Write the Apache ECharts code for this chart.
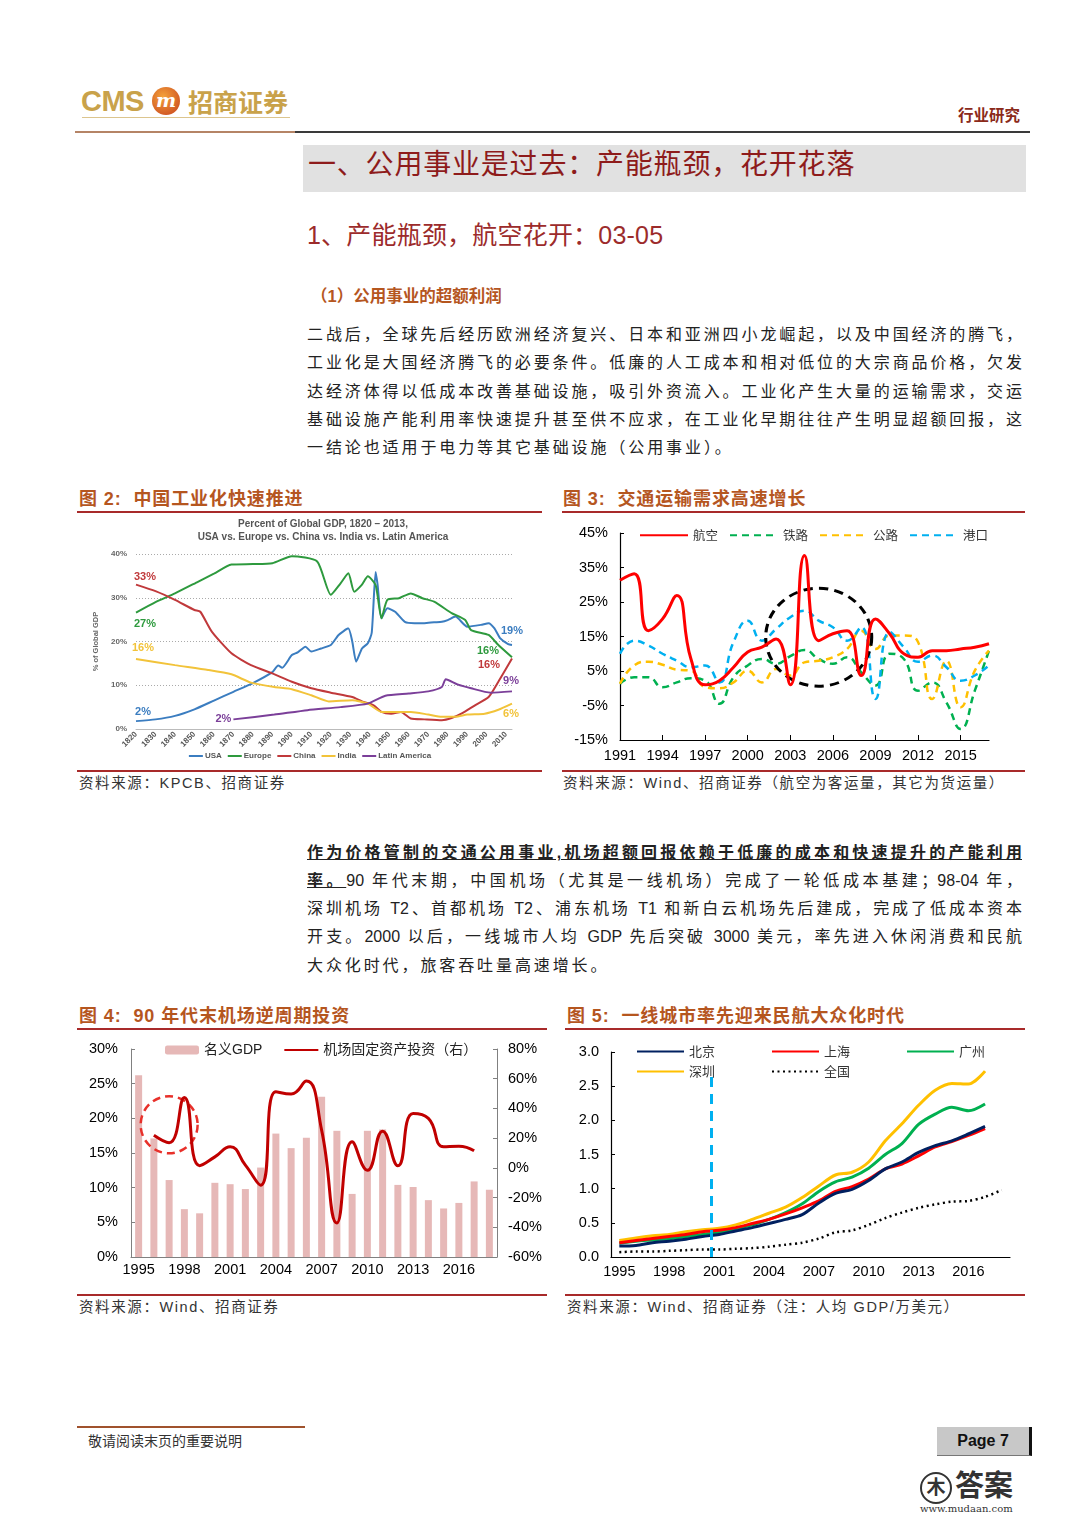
<!DOCTYPE html>
<html><head><meta charset="utf-8">
<script src="https://cdn.jsdelivr.net/npm/echarts/dist/echarts.min.js"></script>
<style>
body{margin:0;background:#fff;width:1080px;height:1527px;position:relative;overflow:hidden;font-family:"Liberation Sans","Noto Sans CJK SC",sans-serif;color:#222;}
.a{position:absolute;white-space:nowrap;}
.hl{position:absolute;height:2px;background:#a82a2a;}
.figt{position:absolute;font-size:18px;font-weight:bold;color:#b5561f;line-height:24px;white-space:nowrap;letter-spacing:0.9px;}
.src{position:absolute;font-size:14.5px;color:#333;line-height:20px;white-space:nowrap;letter-spacing:1.6px;}
.pl{position:absolute;left:307px;width:715px;height:28px;line-height:28px;font-size:16px;letter-spacing:2.9px;white-space:nowrap;color:#222;}
.j{text-align:justify;text-align-last:justify;letter-spacing:0;}
.ch{position:absolute;}
</style></head>
<body>
<!-- header -->
<div class="a" style="left:81px;top:85px;font:bold 29px 'Liberation Sans';color:#c9a24a;letter-spacing:-0.5px;line-height:32px">CMS</div>
<div class="a" style="left:152px;top:87px;width:28px;height:28px;border-radius:50%;background:radial-gradient(circle at 40% 35%,#f4a23a,#c6401c);"></div>
<div class="a" style="left:156px;top:87px;font:italic bold 19px 'DejaVu Serif';color:#fff;line-height:26px">m</div>
<div class="a" style="left:188px;top:84px;font:bold 25px 'Noto Sans CJK SC';color:#c9a24a;line-height:34px">招商证券</div>
<div class="a" style="left:82px;top:117px;width:208px;height:1px;background:#dcc58e"></div>
<div class="a" style="left:75px;top:131px;width:220px;height:2px;background:#b58466"></div>
<div class="a" style="left:295px;top:131px;width:735px;height:2px;background:#3a3a3a"></div>
<div class="a" style="left:958px;top:104px;font:bold 15.5px 'Noto Sans CJK SC';color:#8b2a1a;line-height:20px">行业研究</div>

<div class="a" style="left:303px;top:145px;width:723px;height:47px;background:#e1e1e1"></div>
<div class="a" style="left:308px;top:145px;height:47px;line-height:40px;font-size:28px;color:#8e1b1b;letter-spacing:0.8px">一、公用事业是过去：产能瓶颈，花开花落</div>
<div class="a" style="left:307px;top:218px;line-height:34px;font-size:25px;color:#9c2b2b;letter-spacing:0.2px">1、产能瓶颈，航空花开：03-05</div>
<div class="a" style="left:311px;top:284px;line-height:24px;font-size:16.5px;font-weight:bold;color:#b5561f">（1）公用事业的超额利润</div>

<div class="pl j" style="top:321px">二战后，全球先后经历欧洲经济复兴、日本和亚洲四小龙崛起，以及中国经济的腾飞，</div>
<div class="pl j" style="top:349px">工业化是大国经济腾飞的必要条件。低廉的人工成本和相对低位的大宗商品价格，欠发</div>
<div class="pl j" style="top:378px">达经济体得以低成本改善基础设施，吸引外资流入。工业化产生大量的运输需求，交运</div>
<div class="pl j" style="top:406px">基础设施产能利用率快速提升甚至供不应求，在工业化早期往往产生明显超额回报，这</div>
<div class="pl" style="top:434px">一结论也适用于电力等其它基础设施（公用事业）。</div>

<!-- figure 2/3 headers -->
<div class="figt" style="left:79px;top:487px">图 2:&nbsp;&nbsp;中国工业化快速推进</div>
<div class="figt" style="left:563px;top:487px">图 3:&nbsp;&nbsp;交通运输需求高速增长</div>
<div class="hl" style="left:77px;top:511px;width:465px"></div>
<div class="hl" style="left:562px;top:511px;width:463px"></div>
<div class="hl" style="left:77px;top:770px;width:465px"></div>
<div class="hl" style="left:562px;top:770px;width:463px"></div>
<div class="src" style="left:79px;top:773px">资料来源：KPCB、招商证券</div>
<div class="src" style="left:563px;top:773px">资料来源：Wind、招商证券（航空为客运量，其它为货运量）</div>

<div id="c2" class="ch" style="left:77px;top:513px;width:466px;height:257px"></div>
<div id="c3" class="ch" style="left:562px;top:513px;width:463px;height:257px"></div>

<!-- paragraph 2 -->
<div class="pl j" style="top:839px;font-weight:bold;text-decoration:underline;">作为价格管制的交通公用事业,机场超额回报依赖于低廉的成本和快速提升的产能利用</div>
<div class="pl j" style="top:867px"><b style="text-decoration:underline">率。</b>90 年代末期，中国机场（尤其是一线机场）完成了一轮低成本基建；98-04 年，</div>
<div class="pl j" style="top:895px">深圳机场 T2、首都机场 T2、浦东机场 T1 和新白云机场先后建成，完成了低成本资本</div>
<div class="pl j" style="top:923px">开支。2000 以后，一线城市人均 GDP 先后突破 3000 美元，率先进入休闲消费和民航</div>
<div class="pl" style="top:952px">大众化时代，旅客吞吐量高速增长。</div>

<!-- figure 4/5 headers -->
<div class="figt" style="left:79px;top:1004px">图 4:&nbsp;&nbsp;90 年代末机场逆周期投资</div>
<div class="figt" style="left:567px;top:1004px">图 5:&nbsp;&nbsp;一线城市率先迎来民航大众化时代</div>
<div class="hl" style="left:77px;top:1028px;width:470px"></div>
<div class="hl" style="left:565px;top:1028px;width:460px"></div>
<div class="hl" style="left:77px;top:1294px;width:470px"></div>
<div class="hl" style="left:565px;top:1294px;width:460px"></div>
<div class="src" style="left:79px;top:1297px">资料来源：Wind、招商证券</div>
<div class="src" style="left:567px;top:1297px">资料来源：Wind、招商证券（注：人均 GDP/万美元）</div>

<div id="c4" class="ch" style="left:77px;top:1030px;width:470px;height:265px"></div>
<div id="c5" class="ch" style="left:565px;top:1030px;width:460px;height:265px"></div>

<!-- footer -->
<div class="a" style="left:77px;top:1426px;width:228px;height:2px;background:#a0522d"></div>
<div class="a" style="left:88px;top:1431px;font-size:14px;color:#333;line-height:20px">敬请阅读末页的重要说明</div>
<div class="a" style="left:937px;top:1427px;width:92px;height:28px;background:#c8c8c8;border-right:3px solid #111;border-bottom:1px solid #777;text-align:center;line-height:28px;font-weight:bold;font-size:16px;color:#111">Page 7</div>
<div class="a" style="left:920px;top:1472px;width:28px;height:28px;border:2px solid #333;border-radius:50%;text-align:center;line-height:28px;font-size:19px;font-weight:bold;color:#333">木</div>
<div class="a" style="left:955px;top:1468px;font-size:29px;font-weight:bold;color:#333;line-height:36px">答案</div>
<div class="a" style="left:920px;top:1503px;font-size:10px;color:#333;line-height:12px;font-family:'DejaVu Serif'">www.mudaan.com</div>

<script>
const FF = '"Liberation Sans","Noto Sans CJK SC",sans-serif';
const CJK = '"Noto Sans CJK SC",sans-serif';

// ---------- Figure 2 data: share of global GDP (%) ----------
const usaShare = [[1820,1.8],[1830,2.2],[1840,3.0],[1850,4.5],[1860,6.5],[1870,8.5],[1880,10.5],[1890,13.0],[1893,14.5],[1895,14.0],[1900,16.9],[1903,17.5],[1907,18.8],[1910,17.7],[1915,18.4],[1920,19.2],[1924,21.5],[1929,23.0],[1931,20.0],[1933,15.4],[1936,18.4],[1939,19.6],[1941,22.0],[1943,35.9],[1944,33.0],[1946,25.3],[1949,27.6],[1953,26.8],[1958,24.5],[1963,24.2],[1968,24.2],[1973,24.4],[1977,24.5],[1980,24.9],[1984,25.7],[1990,23.4],[1997,23.8],[2001,24.2],[2004,23.0],[2007,20.7],[2011,19.4],[2013,19.2]];
const europeShare = [[1820,26.6],[1830,29.0],[1840,31.0],[1852,33.7],[1860,35.5],[1869,37.6],[1880,37.7],[1890,37.9],[1900,39.5],[1913,38.3],[1920,30.7],[1925,33.3],[1929,35.6],[1932,31.4],[1936,33.0],[1939,34.9],[1943,32.9],[1946,25.3],[1949,29.5],[1955,29.9],[1961,31.0],[1967,29.9],[1973,29.1],[1982,26.5],[1989,24.9],[1992,22.6],[2001,21.5],[2006,19.2],[2013,16.4]];
const chinaShare = [[1820,33.0],[1830,31.5],[1840,29.5],[1850,27.2],[1853,26.8],[1859,22.2],[1869,17.3],[1879,14.6],[1890,12.7],[1900,10.8],[1910,9.3],[1920,8.3],[1931,7.3],[1936,6.3],[1942,5.4],[1946,3.9],[1951,3.5],[1956,3.9],[1961,2.4],[1968,2.2],[1977,2.0],[1982,2.5],[1987,3.5],[1994,5.4],[2001,7.3],[2006,10.8],[2013,16.1]];
const indiaShare = [[1820,16.0],[1840,14.6],[1857,13.5],[1869,12.5],[1879,10.6],[1891,9.6],[1900,9.1],[1910,7.7],[1919,6.3],[1931,6.6],[1939,5.8],[1946,3.9],[1953,3.9],[1961,3.9],[1970,3.3],[1977,2.8],[1984,2.8],[1990,3.3],[1999,3.5],[2006,4.4],[2013,5.8]];
const latamShare = [[1870,2.2],[1891,3.3],[1908,4.3],[1925,5.0],[1939,5.8],[1948,7.6],[1960,8.1],[1970,8.6],[1977,9.6],[1979,11.4],[1985,10.2],[1992,9.3],[2002,8.3],[2013,8.6]];

// ---------- Figure 3 data: transport volume growth (%) ----------
const transYears = ['1991','1992','1993','1994','1995','1996','1997','1998','1999','2000','2001','2002','2003','2004','2005','2006','2007','2008','2009','2010','2011','2012','2013','2014','2015','2016','2017'];
const airGrowth  = [31.3,33.2,16.7,20.1,26.9,8.5,1.0,2.2,6.1,10.5,11.9,14.3,1.0,38.5,13.8,15.8,16.7,3.7,20.1,15.8,10.0,9.0,10.9,10.9,11.4,11.9,12.9];
const railGrowth = [1.3,3.2,3.2,0.3,1.7,2.9,2.2,-4.5,3.2,6.6,8.5,7.1,9.3,11.1,8.5,7.1,9.0,4.6,0.8,10.0,8.5,-0.7,1.7,-4.1,-11.8,-0.7,10.9];
const roadGrowth = [1.3,6.6,7.7,6.8,5.4,5.1,0.3,0.0,1.7,5.1,1.7,5.6,3.7,7.5,8.0,9.0,11.4,16.7,11.4,15.3,15.3,13.4,-3.1,8.0,-5.5,5.1,10.9];
const portGrowth = [10.0,13.8,12.4,10.0,8.0,6.1,6.6,1.7,13.4,19.6,13.8,17.2,20.6,22.5,19.6,17.7,13.8,17.7,-3.1,16.3,11.9,7.7,9.5,6.1,2.2,3.7,6.6];

// ---------- Figure 4 data ----------
const invYears = ['1995','1996','1997','1998','1999','2000','2001','2002','2003','2004','2005','2006','2007','2008','2009','2010','2011','2012','2013','2014','2015','2016','2017','2018'];
const nominalGdp = [26.2,17.1,11.1,6.9,6.3,10.7,10.5,9.8,12.9,17.8,15.7,17.2,23.1,18.2,9.1,18.2,18.4,10.4,10.1,8.2,7.0,7.8,10.9,9.7];
const airportInv = [null,22.0,16.9,47.4,1.5,7.4,14.2,1.8,-11.7,51.2,49.7,58.4,25.4,-37.1,17.5,-1.6,24.7,1.4,36.6,33.3,14.2,14.6,11.5,null];

// ---------- Figure 5 data: GDP per capita (10k USD) ----------
const gdpYears = ['1995','1996','1997','1998','1999','2000','2001','2002','2003','2004','2005','2006','2007','2008','2009','2010','2011','2012','2013','2014','2015','2016','2017','2018'];
const beijing  = [0.16,0.17,0.21,0.23,0.26,0.30,0.33,0.38,0.43,0.49,0.55,0.62,0.79,0.93,0.99,1.12,1.29,1.39,1.53,1.63,1.70,1.80,1.91,null];
const shanghai = [0.21,0.24,0.27,0.30,0.33,0.37,0.39,0.43,0.49,0.55,0.63,0.72,0.82,0.96,1.03,1.14,1.29,1.36,1.48,1.61,1.69,1.78,1.88,null];
const guangzhou= [0.20,0.23,0.25,0.27,0.30,0.33,0.36,0.41,0.47,0.55,0.65,0.78,0.96,1.10,1.17,1.30,1.50,1.66,1.94,2.09,2.19,2.14,2.24,null];
const shenzhen = [0.24,0.28,0.31,0.33,0.37,0.40,0.42,0.47,0.55,0.64,0.73,0.87,1.04,1.20,1.24,1.39,1.70,1.95,2.22,2.44,2.54,2.53,2.72,null];
const national = [0.07,0.08,0.08,0.09,0.10,0.11,0.11,0.12,0.13,0.15,0.18,0.21,0.27,0.36,0.39,0.47,0.57,0.65,0.72,0.77,0.81,0.82,0.88,0.98];
const cutoffYear = 2000.5;   // boundary between 2000 and 2001
const cutoffTop = 2.73;

// ===== Chart 2 =====
function lbl(coord, text, color, offset){
  return {coord:coord, value:text, label:{show:true, formatter:text, color:color, fontSize:11, fontWeight:'bold', fontFamily:FF, offset:offset}};
}
function mp(items){
  return {symbol:'circle', symbolSize:1, itemStyle:{color:'rgba(0,0,0,0)'}, silent:true, data:items};
}
const c2 = echarts.init(document.getElementById('c2'));
c2.setOption({
  animation:false,
  title:{text:'Percent of Global GDP, 1820 – 2013,\nUSA vs. Europe vs. China vs. India vs. Latin America', left:241, top:0, textAlign:'center',
    textStyle:{fontSize:10, fontWeight:'bold', color:'#555', fontFamily:FF, lineHeight:13}},
  grid:{left:59, right:31, top:41, bottom:41, outerBoundsMode:'none'},
  legend:{bottom:5, left:'center', itemWidth:14, itemHeight:2, itemGap:6, icon:'rect',
    textStyle:{fontSize:8, fontWeight:'bold', color:'#555', fontFamily:FF, padding:[0,0,0,-3]},
    data:['USA','Europe','China','India','Latin America']},
  xAxis:{type:'value', min:1820, max:2013, interval:10,
    axisLine:{lineStyle:{color:'#bbb'}}, axisTick:{show:false}, splitLine:{show:false},
    axisLabel:{rotate:45, fontSize:8, fontWeight:'bold', color:'#555', margin:4, showMaxLabel:false, fontFamily:FF,
      formatter:function(v){return String(v);}}},
  yAxis:{type:'value', min:0, max:40, interval:10,
    name:'% of Global GDP', nameLocation:'middle', nameGap:33,
    nameTextStyle:{fontSize:7.5, fontWeight:'bold', color:'#666', fontFamily:FF},
    axisLine:{show:false}, axisTick:{show:false},
    axisLabel:{formatter:'{value}%', fontSize:8, fontWeight:'bold', color:'#666', margin:9, fontFamily:FF},
    splitLine:{lineStyle:{color:'#aaa', type:[1,2]}}},
  series:[
    {name:'USA', type:'line', data:usaShare, symbol:'none', smooth:0.2, lineStyle:{width:2, color:'#3b7dc0'}, itemStyle:{color:'#3b7dc0'},
      markPoint:mp([lbl([1820,2],'2%','#3b7dc0',[7,-8]), lbl([2013,19.2],'19%','#3b7dc0',[0,-14])])},
    {name:'Europe', type:'line', data:europeShare, symbol:'none', smooth:0.2, lineStyle:{width:2, color:'#2e9a3e'}, itemStyle:{color:'#2e9a3e'},
      markPoint:mp([lbl([1820,26.6],'27%','#2e9a3e',[9,11]), lbl([2013,16.4],'16%','#2e9a3e',[-24,-6])])},
    {name:'China', type:'line', data:chinaShare, symbol:'none', smooth:0.2, lineStyle:{width:2, color:'#c0393b'}, itemStyle:{color:'#c0393b'},
      markPoint:mp([lbl([1820,33],'33%','#c0393b',[9,-8]), lbl([2013,16.1],'16%','#c0393b',[-23,6])])},
    {name:'India', type:'line', data:indiaShare, symbol:'none', smooth:0.2, lineStyle:{width:2, color:'#f2c33a'}, itemStyle:{color:'#f2c33a'},
      markPoint:mp([lbl([1820,16],'16%','#f2c33a',[7,-11]), lbl([2013,5.8],'6%','#f2c33a',[-1,10])])},
    {name:'Latin America', type:'line', data:latamShare, symbol:'none', smooth:0.2, lineStyle:{width:2, color:'#7b3f99'}, itemStyle:{color:'#7b3f99'},
      markPoint:mp([lbl([1870,2.2],'2%','#7b3f99',[-10,0]), lbl([2013,8.6],'9%','#7b3f99',[-1,-10])])}
  ]
});

// ===== Chart 3 =====
const c3 = echarts.init(document.getElementById('c3'));
c3.setOption({
  animation:false,
  grid:{left:58, right:36, top:20, bottom:30, outerBoundsMode:'none'},
  legend:{top:11, left:72, itemWidth:48, itemHeight:12, itemGap:11, itemStyle:{opacity:0},
    textStyle:{fontSize:12.5, color:'#333', fontFamily:CJK},
    data:['航空','铁路','公路','港口']},
  xAxis:{type:'category', data:transYears, boundaryGap:false,
    axisLine:{onZero:false, lineStyle:{color:'#000', width:1.2}},
    axisTick:{inside:true, length:5, interval:2, lineStyle:{color:'#000'}},
    axisLabel:{interval:2, fontSize:14.5, color:'#000', margin:9, fontFamily:FF}},
  yAxis:{type:'value', min:-15, max:45, interval:10,
    axisLine:{show:true, lineStyle:{color:'#000', width:1.2}},
    axisTick:{show:true, inside:true, length:4, lineStyle:{color:'#000'}},
    splitLine:{show:false},
    axisLabel:{formatter:'{value}%', fontSize:14.5, color:'#000', margin:12, fontFamily:FF}},
  series:[
    {name:'航空', type:'line', data:airGrowth, symbol:'none', smooth:true, lineStyle:{width:3, color:'#ff0000'}, itemStyle:{color:'#ff0000'}, z:5,
      markPoint:{symbol:'circle', symbolSize:[106,98], silent:true, label:{show:false},
        itemStyle:{color:'rgba(0,0,0,0)', opacity:1, borderColor:'#000', borderWidth:3, borderType:[9,6]},
        data:[{coord:['2005',14.8]}]}},
    {name:'铁路', type:'line', data:railGrowth, symbol:'none', smooth:true, lineStyle:{width:2.5, color:'#00b050', type:[7,5]}, itemStyle:{color:'#00b050'}},
    {name:'公路', type:'line', data:roadGrowth, symbol:'none', smooth:true, lineStyle:{width:2.5, color:'#ffc000', type:[7,5]}, itemStyle:{color:'#ffc000'}},
    {name:'港口', type:'line', data:portGrowth, symbol:'none', smooth:true, lineStyle:{width:2.5, color:'#00b0f0', type:[7,5]}, itemStyle:{color:'#00b0f0'}}
  ]
});

// ===== Chart 4 =====
const c4 = echarts.init(document.getElementById('c4'));
c4.setOption({
  animation:false,
  grid:{left:54, right:50, top:19, bottom:38, outerBoundsMode:'none'},
  legend:{top:8, left:83, itemWidth:34, itemHeight:9, itemGap:21,
    textStyle:{fontSize:14, color:'#222', fontFamily:FF},
    data:['名义GDP', {name:'机场固定资产投资（右）', itemStyle:{opacity:0}}]},
  xAxis:{type:'category', data:invYears, boundaryGap:true,
    axisLine:{lineStyle:{color:'#808080'}},
    axisTick:{inside:true, length:4, interval:function(i){return i%3===2;}, lineStyle:{color:'#808080'}},
    axisLabel:{interval:2, fontSize:14.5, color:'#000', margin:6, fontFamily:FF}},
  yAxis:[
    {type:'value', min:0, max:30, interval:5,
      axisLine:{show:true, lineStyle:{color:'#808080'}}, axisTick:{show:true, inside:true, length:4}, splitLine:{show:false},
      axisLabel:{formatter:'{value}%', fontSize:14.5, color:'#000', margin:13, fontFamily:FF}},
    {type:'value', min:-60, max:80, interval:20, position:'right',
      axisLine:{show:true, lineStyle:{color:'#808080'}}, axisTick:{show:true, inside:true, length:4}, splitLine:{show:false},
      axisLabel:{formatter:'{value}%', fontSize:14.5, color:'#000', margin:11, fontFamily:FF}}
  ],
  series:[
    {name:'名义GDP', type:'bar', data:nominalGdp, barWidth:7, itemStyle:{color:'#e6b8b7'}},
    {name:'机场固定资产投资（右）', type:'line', yAxisIndex:1, data:airportInv, symbol:'none', smooth:true,
      lineStyle:{width:3, color:'#c00000'}, itemStyle:{color:'#c00000'}, z:5,
      markPoint:{symbol:'circle', symbolSize:57, silent:true, label:{show:false},
        itemStyle:{color:'rgba(0,0,0,0)', borderColor:'#e8302a', borderWidth:2.5, borderType:[8,5]},
        data:[{coord:['1997',29]}]}}
  ]
});

// ===== Chart 5 =====
const c5 = echarts.init(document.getElementById('c5'));
c5.setOption({
  animation:false,
  grid:{left:46, right:15, top:22, bottom:38, outerBoundsMode:'none'},
  legend:[
    {top:10, left:66, itemWidth:47, itemHeight:12, itemGap:56, itemStyle:{opacity:0}, textStyle:{fontSize:13, color:'#333', fontFamily:CJK}, data:['北京','上海','广州']},
    {top:30, left:66, itemWidth:47, itemHeight:12, itemGap:56, itemStyle:{opacity:0}, textStyle:{fontSize:13, color:'#333', fontFamily:CJK}, data:['深圳','全国']}
  ],
  xAxis:[
    {type:'category', data:gdpYears, boundaryGap:true,
      axisLine:{lineStyle:{color:'#000', width:1.2}},
      axisTick:{inside:true, length:5, interval:2, lineStyle:{color:'#000'}},
      axisLabel:{interval:2, fontSize:14.5, color:'#000', margin:8, fontFamily:FF}},
    {type:'value', min:1994.5, max:2018.5, show:false}
  ],
  yAxis:{type:'value', min:0, max:3, interval:0.5,
    axisLine:{show:true, lineStyle:{color:'#000', width:1.2}},
    axisTick:{show:true, inside:true, length:4, lineStyle:{color:'#000'}}, splitLine:{show:false},
    axisLabel:{formatter:function(v){return v.toFixed(1);}, fontSize:14.5, color:'#000', margin:12, fontFamily:FF}},
  series:[
    {name:'深圳', type:'line', data:shenzhen, symbol:'none', smooth:0.3, lineStyle:{width:3, color:'#ffc000'}, itemStyle:{color:'#ffc000'}},
    {name:'广州', type:'line', data:guangzhou, symbol:'none', smooth:0.3, lineStyle:{width:3, color:'#00b050'}, itemStyle:{color:'#00b050'}},
    {name:'上海', type:'line', data:shanghai, symbol:'none', smooth:0.3, lineStyle:{width:3, color:'#ff0000'}, itemStyle:{color:'#ff0000'}},
    {name:'北京', type:'line', data:beijing, symbol:'none', smooth:0.3, lineStyle:{width:3, color:'#002060'}, itemStyle:{color:'#002060'}},
    {name:'全国', type:'line', data:national, symbol:'none', smooth:0.3, lineStyle:{width:2.5, color:'#000', type:[2,3.5]}, itemStyle:{color:'#000'}},
    {name:'cutoff', type:'line', xAxisIndex:1, data:[], symbol:'none',
      markLine:{symbol:'none', silent:true, label:{show:false},
        lineStyle:{color:'#00b0f0', width:3, type:[10,7]},
        data:[[{coord:[cutoffYear,0]},{coord:[cutoffYear,cutoffTop]}]]}}
  ]
});
</script>
</body></html>
